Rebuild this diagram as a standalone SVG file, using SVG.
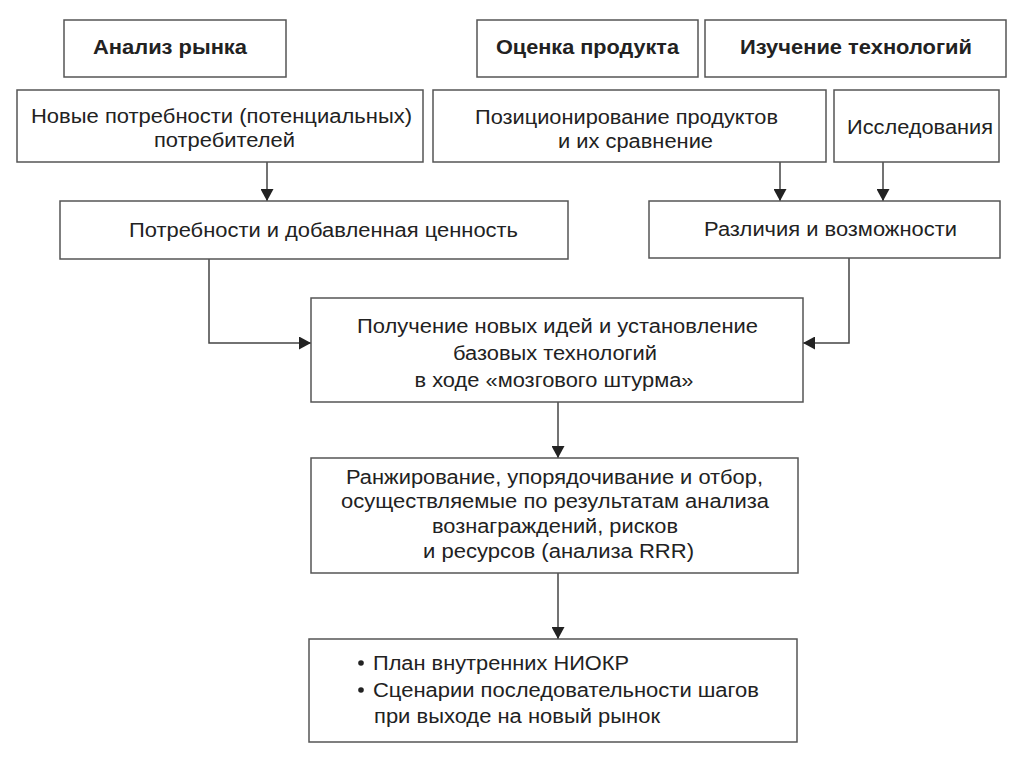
<svg xmlns="http://www.w3.org/2000/svg" width="1024" height="767" viewBox="0 0 1024 767">
<style>
.box{fill:#fff;stroke:#555;stroke-width:1.5}
.t{font-family:"Liberation Sans",Arial,sans-serif;font-size:20px;fill:#222;text-anchor:middle}
.b{font-weight:bold}
.s{text-anchor:start}
.c{fill:none;stroke:#444;stroke-width:1.5}
</style>
<defs>
<marker id="ah" markerUnits="userSpaceOnUse" markerWidth="13" markerHeight="13" refX="12" refY="6.5" orient="auto">
<path d="M0,0 L12,6.5 L0,13 z" fill="#222"/>
</marker>
</defs>
<rect width="1024" height="767" fill="#fff"/>
<g id="connectors">
<path class="c" d="M267,162 V201" marker-end="url(#ah)"/>
<path class="c" d="M780,162 V201" marker-end="url(#ah)"/>
<path class="c" d="M883,162 V201" marker-end="url(#ah)"/>
<path class="c" d="M209,259 V343 H311" marker-end="url(#ah)"/>
<path class="c" d="M849,258 V343 H803" marker-end="url(#ah)"/>
<path class="c" d="M558,402 V458" marker-end="url(#ah)"/>
<path class="c" d="M558,573 V639" marker-end="url(#ah)"/>
</g>
<g id="market">
<rect class="box" x="64" y="20" width="222" height="57"/>
<text class="t b" x="170" y="54" textLength="154" lengthAdjust="spacingAndGlyphs">Анализ рынка</text>
</g>
<g id="product">
<rect class="box" x="477" y="20" width="221" height="57"/>
<text class="t b" x="587.5" y="54" textLength="183" lengthAdjust="spacingAndGlyphs">Оценка продукта</text>
</g>
<g id="tech">
<rect class="box" x="705" y="20" width="301" height="57"/>
<text class="t b" x="856" y="54" textLength="232" lengthAdjust="spacingAndGlyphs">Изучение технологий</text>
</g>
<g id="needs">
<rect class="box" x="17" y="90" width="406" height="72"/>
<text class="t" x="221.5" y="123" textLength="381" lengthAdjust="spacingAndGlyphs">Новые потребности (потенциальных)</text>
<text class="t" x="224.5" y="147" textLength="141" lengthAdjust="spacingAndGlyphs">потребителей</text>
</g>
<g id="positioning">
<rect class="box" x="433" y="90" width="393" height="72"/>
<text class="t" x="626.5" y="124" textLength="303" lengthAdjust="spacingAndGlyphs">Позиционирование продуктов</text>
<text class="t" x="635.5" y="148" textLength="155" lengthAdjust="spacingAndGlyphs">и их сравнение</text>
</g>
<g id="research">
<rect class="box" x="834" y="90" width="165" height="72"/>
<text class="t" x="920" y="134" textLength="146" lengthAdjust="spacingAndGlyphs">Исследования</text>
</g>
<g id="value">
<rect class="box" x="60" y="201" width="508" height="58"/>
<text class="t" x="323.5" y="237" textLength="389" lengthAdjust="spacingAndGlyphs">Потребности и добавленная ценность</text>
</g>
<g id="differences">
<rect class="box" x="649" y="201" width="351" height="57"/>
<text class="t" x="830.5" y="236" textLength="253" lengthAdjust="spacingAndGlyphs">Различия и возможности</text>
</g>
<g id="brainstorm">
<rect class="box" x="311" y="298" width="492" height="104"/>
<text class="t" x="557.5" y="333" textLength="401" lengthAdjust="spacingAndGlyphs">Получение новых идей и установление</text>
<text class="t" x="555" y="360" textLength="204" lengthAdjust="spacingAndGlyphs">базовых технологий</text>
<text class="t" x="554" y="387" textLength="279" lengthAdjust="spacingAndGlyphs">в ходе «мозгового штурма»</text>
</g>
<g id="ranking">
<rect class="box" x="311" y="458" width="487" height="115"/>
<text class="t" x="554.5" y="484" textLength="417" lengthAdjust="spacingAndGlyphs">Ранжирование, упорядочивание и отбор,</text>
<text class="t" x="555" y="508" textLength="428" lengthAdjust="spacingAndGlyphs">осуществляемые по результатам анализа</text>
<text class="t" x="555" y="533" textLength="246" lengthAdjust="spacingAndGlyphs">вознаграждений, рисков</text>
<text class="t" x="558.5" y="558" textLength="271" lengthAdjust="spacingAndGlyphs">и ресурсов (анализа RRR)</text>
</g>
<g id="plan">
<rect class="box" x="309" y="639" width="488" height="103"/>
<circle cx="361" cy="663" r="2.8" fill="#222"/>
<circle cx="361" cy="690" r="2.8" fill="#222"/>
<text class="t s" x="373" y="670" textLength="256" lengthAdjust="spacingAndGlyphs">План внутренних НИОКР</text>
<text class="t s" x="373" y="697" textLength="386" lengthAdjust="spacingAndGlyphs">Сценарии последовательности шагов</text>
<text class="t s" x="374" y="723" textLength="286" lengthAdjust="spacingAndGlyphs">при выходе на новый рынок</text>
</g>
</svg>
